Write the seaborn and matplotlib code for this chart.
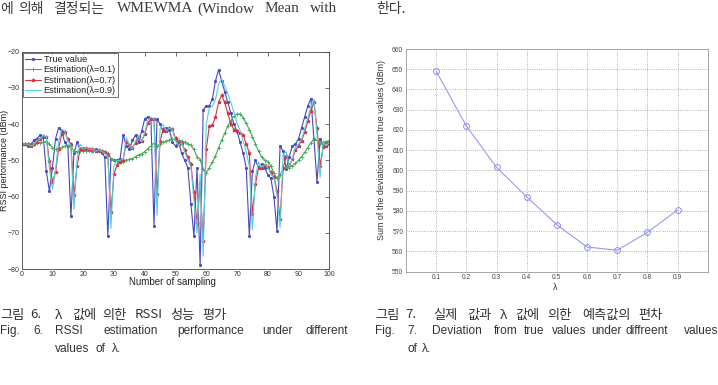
import matplotlib
matplotlib.use("Agg")
import matplotlib.pyplot as plt
import seaborn as sns
import pandas as pd

# ---------------- data ----------------
samples = list(range(101))
true_value = [
    -45.5, -45.5, -46.0, -45.5, -44.5, -44.0, -43.0, -43.5, -53.0, -58.5,
    -52.0, -44.0, -41.0, -42.0, -45.0, -46.0, -65.5, -48.0, -45.0, -47.0,
    -46.5, -47.0, -47.0, -47.5, -47.0, -47.5, -48.0, -49.0, -71.0, -49.5,
    -50.0, -50.0, -49.5, -43.0, -46.0, -47.0, -44.5, -43.0, -45.0, -42.0,
    -38.5, -38.0, -38.5, -68.0, -38.5, -40.0, -42.0, -41.0, -41.5, -45.0,
    -46.0, -45.0, -48.0, -50.0, -52.0, -62.0, -71.0, -52.0, -79.0, -36.0,
    -35.0, -35.0, -33.0, -28.0, -25.0, -28.0, -31.0, -34.0, -37.0, -40.0,
    -42.0, -45.0, -48.0, -52.0, -71.0, -53.0, -50.0, -52.0, -51.0, -52.0,
    -54.0, -55.0, -60.0, -69.5, -46.0, -47.5, -52.5, -49.0, -46.0, -45.5,
    -44.0, -41.0, -38.0, -35.0, -33.0, -44.0, -56.0, -44.0, -46.0, -45.0,
    -45.5]
est_lambda_01 = [
    -45.5, -45.5, -45.6, -45.6, -45.5, -45.3, -45.1, -44.9, -44.8, -45.5,
    -46.5, -47.0, -46.8, -46.4, -46.1, -46.0, -46.0, -47.5, -47.6, -47.4,
    -47.4, -47.4, -47.4, -47.5, -47.5, -47.5, -47.6, -47.7, -48.0, -49.5,
    -50.0, -50.2, -50.4, -50.5, -50.0, -49.7, -49.5, -49.0, -48.5, -48.2,
    -47.6, -46.8, -46.0, -45.3, -46.0, -45.5, -45.0, -44.7, -44.4, -44.2,
    -44.3, -44.5, -44.6, -45.0, -45.4, -45.8, -47.0, -49.0, -49.8, -52.5,
    -53.5, -52.0, -50.5, -48.8, -46.5, -44.5, -42.5, -40.5, -39.0, -37.8,
    -37.2, -37.2, -38.2, -39.8, -41.5, -43.5, -45.5, -47.5, -49.0, -50.0,
    -50.5, -51.5, -53.5, -55.0, -54.0, -52.5, -51.8, -52.0, -51.5, -50.8,
    -50.0, -49.0, -47.8, -46.5, -45.2, -44.2, -44.5, -45.5, -45.0, -44.8,
    -44.6]
est_lambda_07 = [
    -45.5, -45.5, -45.5, -45.9, -45.6, -44.8, -44.2, -43.4, -43.5, -50.2,
    -56.0, -53.2, -46.8, -42.7, -42.2, -44.2, -45.5, -59.5, -51.5, -47.0,
    -47.0, -46.7, -46.9, -47.0, -47.4, -47.1, -47.4, -47.8, -48.6, -64.3,
    -53.9, -51.2, -50.4, -49.8, -45.0, -45.7, -46.6, -45.1, -43.6, -44.6,
    -42.8, -39.8, -38.5, -38.5, -59.2, -44.7, -41.4, -41.8, -41.2, -41.4,
    -43.9, -45.4, -45.1, -47.1, -49.1, -51.1, -58.7, -67.3, -56.6, -72.3,
    -46.9, -40.5, -40.3, -38.0, -34.0, -32.0, -34.0, -37.0, -40.0, -41.5,
    -42.0, -42.5, -43.0, -45.5, -48.0, -64.8, -56.5, -52.0, -52.0, -51.3,
    -51.8, -53.3, -54.5, -58.4, -66.2, -52.1, -48.9, -51.4, -49.7, -47.1,
    -46.0, -44.6, -42.1, -39.2, -36.3, -34.0, -41.0, -51.5, -46.3, -46.1,
    -45.3]
est_lambda_09 = [
    -45.5, -45.5, -45.5, -46.0, -45.6, -44.6, -44.1, -43.1, -43.5, -52.1,
    -57.9, -52.6, -44.9, -41.4, -41.9, -44.7, -45.9, -63.5, -49.6, -45.5,
    -46.9, -46.5, -47.0, -47.0, -47.5, -47.1, -47.5, -48.0, -48.9, -68.8,
    -51.4, -50.1, -50.0, -49.6, -43.7, -45.8, -46.9, -44.7, -43.2, -44.8,
    -42.3, -38.9, -38.1, -38.5, -65.1, -41.2, -40.1, -41.8, -41.1, -41.5,
    -44.7, -45.9, -45.1, -47.7, -49.8, -51.8, -61.0, -70.0, -53.8, -76.5,
    -40.1, -35.5, -35.1, -33.2, -29.0, -27.5, -29.5, -31.5, -34.0, -36.7,
    -39.7, -41.8, -44.7, -47.7, -51.6, -69.1, -54.6, -50.5, -51.9, -51.1,
    -51.9, -53.8, -54.9, -59.5, -68.5, -48.3, -47.6, -52.0, -49.3, -46.3,
    -45.6, -44.2, -41.3, -38.3, -35.3, -33.2, -42.9, -54.7, -45.1, -45.9,
    -45.1]
series_names = ["True value", "Estimation(λ=0.1)", "Estimation(λ=0.7)", "Estimation(λ=0.9)"]

lambdas = [0.1, 0.2, 0.3, 0.4, 0.5, 0.6, 0.7, 0.8, 0.9]
deviation_sum = [649.0, 622.0, 601.5, 587.0, 573.2, 562.2, 560.6, 569.4, 580.5]

left_yticks = [-80, -70, -60, -50, -40, -30, -20]
left_xticks = [0, 10, 20, 30, 40, 50, 60, 70, 80, 90, 100]
right_yticks = [550, 560, 570, 580, 590, 600, 610, 620, 630, 640, 650, 660]

# ---------------- style ----------------
sns.set_style("white")
plt.rcParams['font.family'] = ['Liberation Sans', 'Noto Sans CJK KR', 'DejaVu Sans']

W, H = 718, 385
fig = plt.figure(figsize=(W / 100, H / 100), dpi=100)
fig.patch.set_facecolor("white")


def px_axes(x0, y0, x1, y1):
    return fig.add_axes([x0 / W, 1 - y1 / H, (x1 - x0) / W, (y1 - y0) / H])


ax1 = px_axes(21.7, 51.7, 329.3, 269.0)
ax2 = px_axes(406.0, 49.0, 707.7, 271.7)

# ---------------- left chart ----------------
df = pd.DataFrame({"sample": samples,
                   series_names[0]: true_value,
                   series_names[1]: est_lambda_01,
                   series_names[2]: est_lambda_07,
                   series_names[3]: est_lambda_09})
styles = {
    series_names[0]: dict(color="#4747c2", marker=".", markersize=3.2),
    series_names[1]: dict(color="#45a85a", marker="+", markersize=2.6),
    series_names[2]: dict(color="#d8333f", marker="*", markersize=2.6),
    series_names[3]: dict(color="#52cfd3", marker=None, markersize=0),
}
for name in series_names:
    st = styles[name]
    kw = dict(color=st["color"], linewidth=0.8, label=name)
    if st["marker"]:
        kw.update(marker=st["marker"], markersize=st["markersize"],
                  markeredgecolor=st["color"], markerfacecolor=st["color"],
                  markeredgewidth=0.6)
    sns.lineplot(data=df, x="sample", y=name, ax=ax1, **kw)

ax1.set_xlim(0, 100)
ax1.set_ylim(-80, -20)
ax1.set_xticks(left_xticks)
ax1.set_yticks(left_yticks)
ax1.tick_params(direction="in", top=True, right=True, length=3, width=0.5,
                labelsize=5, pad=1.5, colors="#333333")
for s in ax1.spines.values():
    s.set_color("#444444")
    s.set_linewidth(0.6)
ax1.set_xlabel("Number of sampling", fontsize=7, color="#222222")
ax1.xaxis.set_label_coords(0.49, -0.058)
ax1.xaxis.label.set_va("center")
ax1.set_ylabel("RSSI performance (dBm)", fontsize=6.5, color="#222222")
ax1.yaxis.set_label_coords(-0.056, 0.5)
ax1.yaxis.label.set_va("center")
leg = ax1.legend(loc="upper left", bbox_to_anchor=(0.004, 0.995), borderaxespad=0,
                 fontsize=6.6, frameon=True, fancybox=False, edgecolor="#333333",
                 labelspacing=0.15, handlelength=1.7, handletextpad=0.3, borderpad=0.25)
leg.get_frame().set_linewidth(0.6)
for t in leg.get_texts():
    t.set_color("#222222")

# ---------------- right chart ----------------
sns.lineplot(x=lambdas, y=deviation_sum, ax=ax2, color="#9a9af0", linewidth=0.8,
             marker="o", markersize=4.2, markerfacecolor="none",
             markeredgecolor="#8f8fe8", markeredgewidth=0.7)
ax2.set_xlim(0, 1)
ax2.set_ylim(550, 660)
ax2.set_xticks(lambdas)
ax2.set_yticks(right_yticks)
ax2.grid(True, linestyle=":", color="#9a9a9a", linewidth=0.6)
ax2.tick_params(direction="in", length=2, width=0.4, labelsize=4.8, pad=2,
                colors="#444444")
for s in ax2.spines.values():
    s.set_color("#999999")
    s.set_linewidth(0.6)
ax2.set_xlabel("λ", fontsize=6.5, color="#333333")
ax2.xaxis.set_label_coords(0.494, -0.073)
ax2.xaxis.label.set_va("center")
ax2.set_ylabel("Sum of the deviations from true values (dBm)", fontsize=6.4, color="#333333")
ax2.yaxis.set_label_coords(-0.08, 0.546)
ax2.yaxis.label.set_va("center")

# ---------------- page text ----------------
KR = ['Noto Sans CJK KR', 'DejaVu Sans']
SERIF = ['Liberation Serif', 'Noto Sans CJK KR', 'DejaVu Sans']
SANS = ['Liberation Sans', 'Noto Sans CJK KR', 'DejaVu Sans']


def words(items, y, size, family, color="#333333"):
    for w, x in items:
        fig.text(x / W, 1 - y / H, w, fontsize=size, family=family, color=color,
                 ha="left", va="center")


words([("에", 0), ("의해", 18), ("결정되는", 53)], 9, 10, KR, "#3a3a3a")
words([("WMEWMA", 117), ("(Window", 197), ("Mean", 265), ("with", 310)], 9, 11, SERIF, "#3a3a3a")
words([("한다.", 376)], 9, 10, KR, "#3a3a3a")

words([("그림", 0), ("6.", 30), ("λ", 55), ("값에", 72), ("의한", 102), ("RSSI", 135),
       ("성능", 170), ("평가", 202)], 315, 9.5, KR)
words([("Fig.", 0), ("6.", 33), ("RSSI", 55), ("estimation", 104), ("performance", 177),
       ("under", 262), ("different", 306)], 331, 8.6, SANS)
words([("values", 55), ("of", 96), ("λ.", 112)], 349, 8.6, SANS)

words([("그림", 375), ("7.", 405), ("실제", 433), ("값과", 467), ("λ", 500), ("값에", 515),
       ("의한", 547), ("예측값의", 582), ("편차", 638)], 315, 9.5, KR)
words([("Fig.", 375), ("7.", 407), ("Deviation", 432), ("from", 494), ("true", 524),
       ("values", 552), ("under", 591), ("diffreent", 626), ("values", 684)], 331, 8.6, SANS)
words([("of", 407), ("λ.", 422)], 349, 8.6, SANS)

fig.savefig("out.png", dpi=100, facecolor="white")
